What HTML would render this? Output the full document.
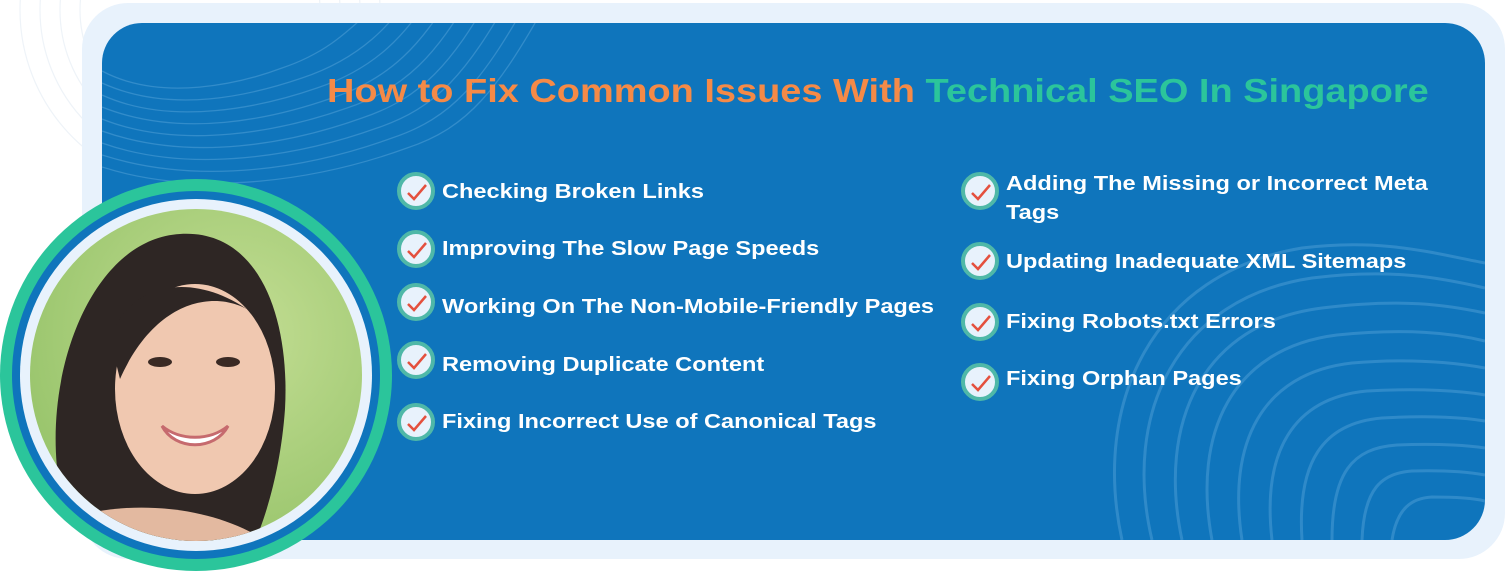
<!DOCTYPE html>
<html><head><meta charset="utf-8"><style>
*{margin:0;padding:0;box-sizing:border-box}
body{width:1505px;height:570px;background:#fff;position:relative;overflow:hidden;font-family:"Liberation Sans",sans-serif}
.outer{position:absolute;left:82px;top:3px;width:1423px;height:556px;background:#e8f2fc;border-radius:46px}
.inner{position:absolute;left:102px;top:23px;width:1383px;height:517px;background:#0f75bc;border-radius:40px;overflow:hidden}
.title{position:absolute;left:327px;top:72px;font-size:33px;font-weight:bold;color:#f58a47;white-space:nowrap;transform:scaleX(1.15);transform-origin:0 0}
.title span{color:#2bc59b}
.item{position:absolute;color:#fff;font-weight:bold;font-size:20.5px;line-height:29px;white-space:nowrap;transform:scaleX(1.15);transform-origin:0 0}
.chk{position:absolute;width:38px;height:38px;border-radius:50%;background:#e8f2fc;border:4px solid #4fb8a8}
.chk svg{position:absolute;left:5px;top:6px}
</style></head><body>
<svg style="position:absolute;left:0;top:0" width="420" height="200">
<g fill="none" stroke="#eef3f8" stroke-width="1.2">
<circle cx="200" cy="10" r="120"/><circle cx="200" cy="10" r="140"/><circle cx="200" cy="10" r="160"/><circle cx="200" cy="10" r="180"/>
</g></svg>
<div class="outer"></div>
<div class="inner">
<svg width="1383" height="517" style="position:absolute;left:0;top:0">
<g fill="none" stroke="#4a9bd3" stroke-opacity="0.6" stroke-width="1.3">
<path d="M0 48 C60 80 140 60 180 45 C240 25 260 -10 290 -30"/>
<path d="M0 60 C70 92 150 72 200 55 C260 35 290 0 310 -30"/>
<path d="M0 72 C70 104 160 84 215 65 C275 45 305 10 330 -30"/>
<path d="M0 84 C80 116 170 96 230 75 C290 55 320 20 350 -30"/>
<path d="M0 96 C80 128 180 108 245 85 C305 65 335 30 370 -30"/>
<path d="M0 108 C90 140 190 120 260 95 C320 75 350 40 390 -30"/>
<path d="M0 120 C90 152 200 132 275 105 C335 85 365 50 410 -30"/>
<path d="M0 132 C100 164 210 144 290 115 C350 95 380 60 430 -30"/>
<path d="M0 144 C100 176 220 156 305 125 C365 105 395 70 450 -30"/>
</g>
<g fill="none" stroke="#4a9bd3" stroke-opacity="0.55" stroke-width="3">
<path d="M1020 517 C990 380 1050 250 1200 225 C1280 215 1330 230 1383 240"/>
<path d="M1050 517 C1020 390 1075 275 1210 255 C1290 245 1340 255 1383 265"/>
<path d="M1080 517 C1055 400 1100 300 1220 285 C1300 275 1345 282 1383 290"/>
<path d="M1110 517 C1090 410 1130 325 1235 312 C1305 305 1350 310 1383 318"/>
<path d="M1140 517 C1125 420 1160 350 1250 340 C1310 335 1355 340 1383 345"/>
<path d="M1170 517 C1160 430 1190 375 1265 368 C1320 365 1360 368 1383 372"/>
<path d="M1200 517 C1195 440 1220 400 1280 395 C1330 392 1365 395 1383 398"/>
<path d="M1230 517 C1230 450 1250 425 1295 422 C1340 420 1370 423 1383 425"/>
<path d="M1260 517 C1262 465 1280 450 1310 448 C1350 447 1372 450 1383 452"/>
<path d="M1290 517 C1295 485 1310 475 1330 474 C1360 474 1375 476 1383 478"/>
</g></svg>
</div>
<div class="title">How to Fix Common Issues With <span>Technical SEO In Singapore</span></div>

<svg style="position:absolute;left:0;top:179px" width="392" height="392">
<defs><clipPath id="ph"><circle cx="196" cy="196" r="166"/></clipPath>
<radialGradient id="bg" cx="0.6" cy="0.4" r="0.7"><stop offset="0" stop-color="#c4de94"/><stop offset="1" stop-color="#8fbf63"/></radialGradient></defs>
<circle cx="196" cy="196" r="196" fill="#2bc59b"/>
<circle cx="196" cy="196" r="184" fill="#0f75bc"/>
<circle cx="196" cy="196" r="176" fill="#e8f2fc"/>
<g clip-path="url(#ph)">
<rect width="392" height="392" fill="url(#bg)"/>
<path d="M60 310 C40 200 90 60 180 55 C260 50 290 140 285 230 C280 300 260 360 240 392 L40 392Z" fill="#2e2624"/>
<path d="M70 340 C120 320 240 320 300 392 L70 392Z" fill="#e3b9a0"/>
<ellipse cx="195" cy="210" rx="80" ry="105" fill="#f0c8b0"/>
<path d="M110 160 C130 100 200 90 260 140 C230 110 160 110 120 200Z" fill="#2e2624"/>
<ellipse cx="160" cy="183" rx="12" ry="5" fill="#3a2a24"/><ellipse cx="228" cy="183" rx="12" ry="5" fill="#3a2a24"/>
<path d="M162 247 C180 262 210 262 228 247 C215 272 175 272 162 247Z" fill="#fff" stroke="#c66a6e" stroke-width="3"/>
</g>
</svg>

<div class="chk" style="left:397px;top:172px"><svg width="22" height="20"><path d="M2 11 L8 17 L20 3" fill="none" stroke="#e4503e" stroke-width="2.5"/></svg></div>
<div class="item" style="left:442px;top:177px">Checking Broken Links</div>
<div class="chk" style="left:397px;top:230px"><svg width="22" height="20"><path d="M2 11 L8 17 L20 3" fill="none" stroke="#e4503e" stroke-width="2.5"/></svg></div>
<div class="item" style="left:442px;top:234px">Improving The Slow Page Speeds</div>
<div class="chk" style="left:397px;top:283px"><svg width="22" height="20"><path d="M2 11 L8 17 L20 3" fill="none" stroke="#e4503e" stroke-width="2.5"/></svg></div>
<div class="item" style="left:442px;top:292px">Working On The Non-Mobile-Friendly Pages</div>
<div class="chk" style="left:397px;top:341px"><svg width="22" height="20"><path d="M2 11 L8 17 L20 3" fill="none" stroke="#e4503e" stroke-width="2.5"/></svg></div>
<div class="item" style="left:442px;top:350px">Removing Duplicate Content</div>
<div class="chk" style="left:397px;top:403px"><svg width="22" height="20"><path d="M2 11 L8 17 L20 3" fill="none" stroke="#e4503e" stroke-width="2.5"/></svg></div>
<div class="item" style="left:442px;top:407px">Fixing Incorrect Use of Canonical Tags</div>

<div class="chk" style="left:961px;top:172px"><svg width="22" height="20"><path d="M2 11 L8 17 L20 3" fill="none" stroke="#e4503e" stroke-width="2.5"/></svg></div>
<div class="item" style="left:1006px;top:169px">Adding The Missing or Incorrect Meta<br>Tags</div>
<div class="chk" style="left:961px;top:242px"><svg width="22" height="20"><path d="M2 11 L8 17 L20 3" fill="none" stroke="#e4503e" stroke-width="2.5"/></svg></div>
<div class="item" style="left:1006px;top:247px">Updating Inadequate XML Sitemaps</div>
<div class="chk" style="left:961px;top:303px"><svg width="22" height="20"><path d="M2 11 L8 17 L20 3" fill="none" stroke="#e4503e" stroke-width="2.5"/></svg></div>
<div class="item" style="left:1006px;top:307px">Fixing Robots.txt Errors</div>
<div class="chk" style="left:961px;top:363px"><svg width="22" height="20"><path d="M2 11 L8 17 L20 3" fill="none" stroke="#e4503e" stroke-width="2.5"/></svg></div>
<div class="item" style="left:1006px;top:364px">Fixing Orphan Pages</div>
</body></html>
